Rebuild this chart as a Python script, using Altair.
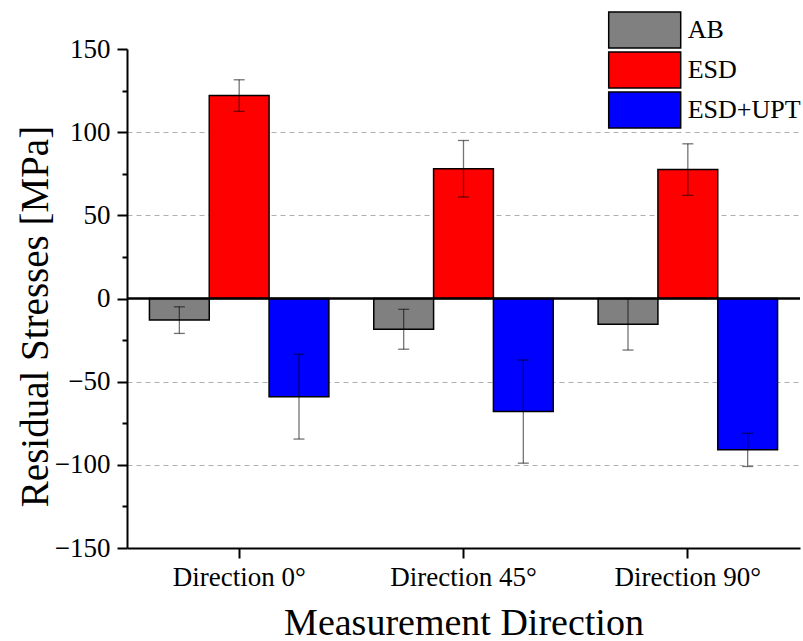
import altair as alt
import pandas as pd

# ---- data ----
directions = ["Direction 0°", "Direction 45°", "Direction 90°"]
groups = ["AB", "ESD", "ESD+UPT"]
ab_values = [-13.0, -18.5, -15.5]
ab_errors = [8.0, 12.0, 15.5]
esd_values = [122.0, 78.0, 77.5]
esd_errors = [9.5, 17.0, 15.5]
upt_values = [-59.0, -68.0, -91.0]
upt_errors = [25.5, 31.0, 10.0]
colors = ["#808080", "#ff0000", "#0000ff"]
y_ticks = list(range(-150, 151, 25))
zero_line = [0]

rows = []
for g, vals, errs in zip(groups, [ab_values, esd_values, upt_values],
                         [ab_errors, esd_errors, upt_errors]):
    for d, v, e in zip(directions, vals, errs):
        rows.append({"direction": d, "group": g, "value": v, "err": e})
df = pd.DataFrame(rows)

FONT = "Liberation Serif"

x_scale = alt.Scale(domain=directions, paddingInner=0.2, paddingOuter=0.1)
xoff_scale = alt.Scale(domain=groups, paddingInner=0, paddingOuter=0)
y_scale = alt.Scale(domain=[-150, 150], nice=False, zero=False)

x_axis = alt.Axis(
    title="Measurement Direction", titleFont=FONT, titleFontSize=38,
    titleFontWeight="normal", titleColor="black", titleY=86,
    titleBaseline="alphabetic",
    labelFont=FONT, labelFontSize=27, labelFontWeight="normal", labelColor="black", labelAngle=0,
    labelBaseline="alphabetic", labelPadding=27,
    tickSize=10, tickColor="black", tickWidth=2,
    domainColor="black", domainWidth=2, grid=False,
)

y_axis = alt.Axis(
    values=y_ticks,
    title="Residual Stresses [MPa]", titleFont=FONT, titleFontSize=39,
    titleFontWeight="normal", titleColor="black",
    titleX=-80, titleY=267, titleAngle=270, titleAlign="center",
    titleBaseline="alphabetic",
    labelFont=FONT, labelFontSize=27, labelFontWeight="normal", labelColor="black", labelPadding=7,
    labelExpr="datum.value % 50 === 0 ? datum.label : ''",
    tickSize={"condition": {"test": "datum.value % 50 === 0", "value": 10}, "value": 5},
    tickColor="black", tickWidth=2,
    domainColor="black", domainWidth=2,
    grid=True, gridColor="#b0b0b0", gridDash=[5, 4], gridWidth=1,
    gridOpacity={"condition": {"test": "datum.value % 50 === 0 && abs(datum.value) < 150 && datum.value !== 0", "value": 1}, "value": 0},
)

legend = alt.Legend(
    title=None, orient="none", legendX=498.7, legendY=-38, padding=0,
    symbolType="M-2,-1H2V1H-2Z", symbolSize=1296,
    symbolStrokeColor="black", symbolStrokeWidth=1.5, symbolOpacity=1,
    labelFont=FONT, labelFontSize=26, labelColor="black", labelOffset=24,
    labelBaseline="middle", rowPadding=-3,
)

x_enc = alt.X("direction:N", sort=directions, scale=x_scale, axis=x_axis,
              title="Measurement Direction")
xoff_enc = alt.XOffset("group:N", sort=groups, scale=xoff_scale)

base = alt.Chart(df)

bars = base.mark_bar(stroke="black", strokeWidth=1.5).encode(
    x=x_enc,
    xOffset=xoff_enc,
    y=alt.Y("value:Q", scale=y_scale, axis=y_axis, title="Residual Stresses [MPa]"),
    y2=alt.datum(0),
    color=alt.Color("group:N", sort=groups,
                    scale=alt.Scale(domain=groups, range=colors), legend=legend),
)

err_base = base.transform_calculate(
    lo="datum.value - datum.err", hi="datum.value + datum.err"
)

err_rule = err_base.mark_rule(color="black", opacity=0.55, strokeWidth=1.3).encode(
    x=x_enc,
    xOffset=xoff_enc,
    y=alt.Y("lo:Q", scale=y_scale, axis=y_axis, title="Residual Stresses [MPa]"),
    y2="hi:Q",
)

err_caps = err_base.transform_fold(["lo", "hi"], as_=["end", "pos"]).mark_tick(
    color="black", opacity=0.55, thickness=1.3, size=11
).encode(
    x=x_enc,
    xOffset=xoff_enc,
    y=alt.Y("pos:Q", scale=y_scale, axis=y_axis, title="Residual Stresses [MPa]"),
)

zero = alt.Chart(pd.DataFrame({"z": zero_line})).mark_rule(
    color="black", strokeWidth=2.5
).encode(y=alt.Y("z:Q", scale=y_scale, axis=y_axis, title="Residual Stresses [MPa]"))

chart = alt.layer(bars, err_rule, err_caps, zero).properties(
    width=673, height=499,
    autosize=alt.AutoSizeParams(type="none"),
    padding={"left": 127, "top": 49, "right": 3, "bottom": 93},
).configure(
    background="white", font=FONT,
    style={"guide-label": {"font": FONT, "fontWeight": "normal"},
           "guide-title": {"font": FONT}},
).configure_view(
    stroke=None
).configure_axis(
    labelFont=FONT, titleFont=FONT
).configure_legend(
    labelFont=FONT
)

chart.save("out.html", embed_options={"renderer": "svg", "actions": False})
